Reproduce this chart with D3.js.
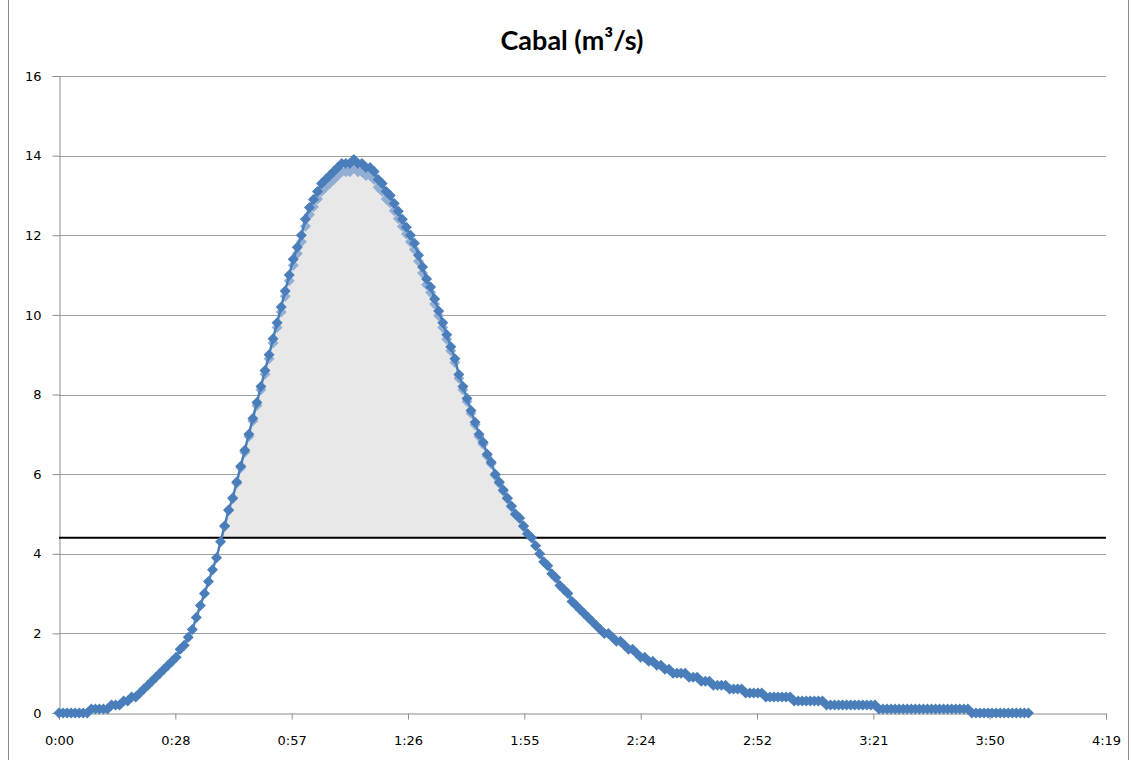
<!DOCTYPE html>
<html><head><meta charset="utf-8">
<script src="https://cdn.jsdelivr.net/npm/d3@7"></script>
<style>body{margin:0;background:#fff} svg{display:block}</style>
</head><body><svg id="c" width="1131" height="760"></svg>
<script>
// ---------- data ----------
const title = "Cabal (m³/s)";
const stepMinutes = 1; // one reading per minute, starting at 0:00
const flow = [
  0,0,0,0,0,0,0,0,0.1,0.1,
  0.1,0.1,0.1,0.2,0.2,0.2,0.3,0.3,0.4,0.4,
  0.5,0.6,0.7,0.8,0.9,1.0,1.1,1.2,1.3,1.4,
  1.6,1.7,1.9,2.1,2.4,2.7,3.0,3.3,3.6,3.9,
  4.3,4.7,5.1,5.4,5.8,6.2,6.6,7.0,7.4,7.8,
  8.2,8.6,9.0,9.4,9.8,10.2,10.6,11.0,11.4,11.7,
  12.0,12.4,12.7,12.9,13.1,13.3,13.4,13.5,13.6,13.7,
  13.8,13.8,13.8,13.9,13.8,13.8,13.7,13.7,13.6,13.4,
  13.3,13.1,13.0,12.8,12.6,12.4,12.2,12.0,11.8,11.5,
  11.2,10.9,10.7,10.4,10.1,9.8,9.5,9.2,8.9,8.5,
  8.2,7.9,7.6,7.3,7.0,6.8,6.5,6.3,6.0,5.8,
  5.6,5.4,5.2,5.0,4.9,4.7,4.5,4.4,4.2,4.0,
  3.8,3.7,3.5,3.4,3.2,3.1,3.0,2.8,2.7,2.6,
  2.5,2.4,2.3,2.2,2.1,2.0,2.0,1.9,1.8,1.8,
  1.7,1.6,1.6,1.5,1.4,1.4,1.3,1.3,1.2,1.2,
  1.1,1.1,1.0,1.0,1.0,1.0,0.9,0.9,0.9,0.8,
  0.8,0.8,0.7,0.7,0.7,0.7,0.6,0.6,0.6,0.6,
  0.5,0.5,0.5,0.5,0.5,0.4,0.4,0.4,0.4,0.4,
  0.4,0.4,0.3,0.3,0.3,0.3,0.3,0.3,0.3,0.3,
  0.2,0.2,0.2,0.2,0.2,0.2,0.2,0.2,0.2,0.2,
  0.2,0.2,0.2,0.1,0.1,0.1,0.1,0.1,0.1,0.1,
  0.1,0.1,0.1,0.1,0.1,0.1,0.1,0.1,0.1,0.1,
  0.1,0.1,0.1,0.1,0.1,0.1,0,0,0,0,
  0,0,0,0,0,0,0,0,0,0,
  0
];
const threshold = 4.4;
const yTicks = [0,2,4,6,8,10,12,14,16];
const xTickMinutes = [0,28.8,57.6,86.4,115.2,144,172.8,201.6,230.4,259.2];
const xTickLabels = ["0:00","0:28","0:57","1:26","1:55","2:24","2:52","3:21","3:50","4:19"];

// ---------- layout ----------
const svg = d3.select("#c");
const L = 59, R = 1106, T = 76, B = 713;
const x = d3.scaleLinear().domain([0, 259.2]).range([L, R]);
const y = d3.scaleLinear().domain([0, 16]).range([B, T]);
const yArea = d3.scaleLinear().domain([threshold, 16]).range([y(threshold), y(16) + 10]);

const pts = flow.map((v, i) => ({t: i * stepMinutes, v}));
const above = pts.filter(d => d.v > threshold);

// frame
svg.append("rect").attr("x", 8.5).attr("y", -2).attr("width", 1120).attr("height", 770)
  .attr("fill", "none").attr("stroke", "#8c8c8c").attr("stroke-width", 1);

// title
svg.append("text").attr("x", 572).attr("y", 50).attr("text-anchor", "middle")
  .attr("font-family", "Lato, 'Open Sans', sans-serif").attr("font-weight", "bold")
  .attr("font-size", 27).attr("fill", "#000").text(title);

// gridlines
svg.append("g").selectAll("line").data(yTicks.filter(d => d > 0)).join("line")
  .attr("x1", L).attr("x2", R).attr("y1", d => Math.round(y(d)) + 0.5).attr("y2", d => Math.round(y(d)) + 0.5)
  .attr("stroke", "#a0a0a0").attr("stroke-width", 1);

// y axis
const yAxis = svg.append("g").attr("transform", `translate(${L + 0.5},0)`)
  .call(d3.axisLeft(y).tickValues(yTicks).tickSize(7).tickPadding(11).tickFormat(d3.format("d")));
yAxis.select(".domain").attr("stroke", "#8c8c8c");
yAxis.selectAll(".tick line").attr("stroke", "#8c8c8c");
yAxis.selectAll("text").attr("font-family", "'DejaVu Sans', Verdana, sans-serif").attr("font-size", 13).attr("fill", "#000");

// x axis
const xAxis = svg.append("g").attr("transform", `translate(0,${B + 0.5})`)
  .call(d3.axisBottom(x).tickValues(xTickMinutes).tickSize(6).tickPadding(16)
    .tickFormat((d, i) => xTickLabels[i]));
xAxis.select(".domain").attr("stroke", "#8c8c8c");
xAxis.selectAll(".tick line").attr("stroke", "#8c8c8c");
xAxis.selectAll("text").attr("font-family", "'DejaVu Sans', Verdana, sans-serif").attr("font-size", 13).attr("fill", "#000");

// shaded area above threshold
const area = d3.area()
  .defined(d => d.v >= threshold - 0.5)
  .x(d => x(d.t))
  .y0(y(threshold))
  .y1(d => yArea(Math.max(d.v, threshold)));
svg.append("path").datum(pts).attr("d", area).attr("fill", "#e8e8e8");

const diamond = "M0,-5.5L5.5,0L0,5.5L-5.5,0Z";

// light markers of the area series
svg.append("g").selectAll("path").data(above).join("path")
  .attr("d", diamond)
  .attr("transform", d => `translate(${x(d.t)},${yArea(d.v)})`)
  .attr("fill", "#93aed3");

// threshold line
svg.append("line").attr("x1", L).attr("x2", R)
  .attr("y1", y(threshold)).attr("y2", y(threshold))
  .attr("stroke", "#000").attr("stroke-width", 2);

// main series line + markers
svg.append("path").datum(pts)
  .attr("d", d3.line().x(d => x(d.t)).y(d => y(d.v)))
  .attr("fill", "none").attr("stroke", "#4a7ebb").attr("stroke-width", 2.5);
svg.append("g").selectAll("path").data(pts).join("path")
  .attr("d", diamond)
  .attr("transform", d => `translate(${x(d.t)},${y(d.v)})`)
  .attr("fill", "#4a7ebb");
</script>
</body></html>
